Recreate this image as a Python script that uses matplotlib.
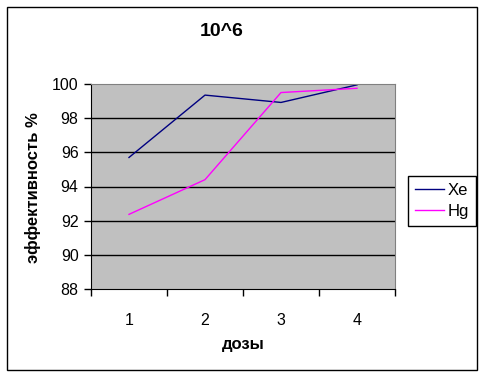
import matplotlib
matplotlib.use("Agg")
import matplotlib.pyplot as plt
from matplotlib.patches import Rectangle

plt.rcParams['font.family'] = ['Liberation Sans', 'DejaVu Sans']

doses = [1, 2, 3, 4]
xe = [95.7, 99.35, 98.92, 99.95]
hg = [92.37, 94.4, 99.5, 99.75]
yticks = [88, 90, 92, 94, 96, 98, 100]

W, H = 486, 378
fig = plt.figure(figsize=(W / 100, H / 100), dpi=100)
fig.patch.set_facecolor('white')

# outer chart border
fig.patches.append(Rectangle((7 / W, 1 - 370 / H), 470 / W, 363 / H,
                             transform=fig.transFigure, fill=False,
                             edgecolor='black', linewidth=1.0))

ax = fig.add_axes([91 / W, 1 - 289 / H, 304 / W, 205 / H])
ax.set_facecolor('#c0c0c0')

ax.plot(doses, xe, color='#000080', linewidth=1.0, label='Xe')
ax.plot(doses, hg, color='#ff00ff', linewidth=1.0, label='Hg')

ax.set_xlim(0.5, 4.5)
ax.set_ylim(88, 100)
ax.set_yticks(yticks)
ax.set_yticklabels([str(v) for v in yticks], fontsize=11.5)
for v in yticks[1:-1]:
    ax.axhline(v, color='black', linewidth=1.0, zorder=1)

ax.set_xticks([0.5, 1.5, 2.5, 3.5, 4.5])
ax.set_xticklabels([])
ax.set_xticks(doses, minor=True)
ax.set_xticklabels([str(d) for d in doses], minor=True, fontsize=11.5)
ax.tick_params(axis='x', which='minor', length=0, pad=17)
ax.tick_params(axis='both', which='major', direction='out', length=5,
               width=1, color='black')
ax.tick_params(axis='y', pad=4)

for s in ['top', 'right']:
    ax.spines[s].set_color('#808080')
for s in ['left', 'bottom']:
    ax.spines[s].set_color('black')

fig.text(222 / W, 1 - 32 / H, '10^6', ha='center', va='center',
         fontsize=14, fontweight='bold')
fig.text(243 / W, 1 - 345 / H, 'дозы', ha='center', va='center',
         fontsize=12, fontweight='bold')
fig.text(33 / W, 1 - 188 / H, 'эффективность %', ha='center', va='center',
         rotation=90, fontsize=12, fontweight='bold')

leg = fig.legend(loc='center left', bbox_to_anchor=(408 / W, 1 - 201 / H),
                 fontsize=12, frameon=True, fancybox=False, edgecolor='black',
                 framealpha=1, handlelength=1.75, handletextpad=0.25,
                 borderpad=0.4, labelspacing=0.4, borderaxespad=0)
leg.get_frame().set_linewidth(1.0)

fig.savefig('out.png', dpi=100)
